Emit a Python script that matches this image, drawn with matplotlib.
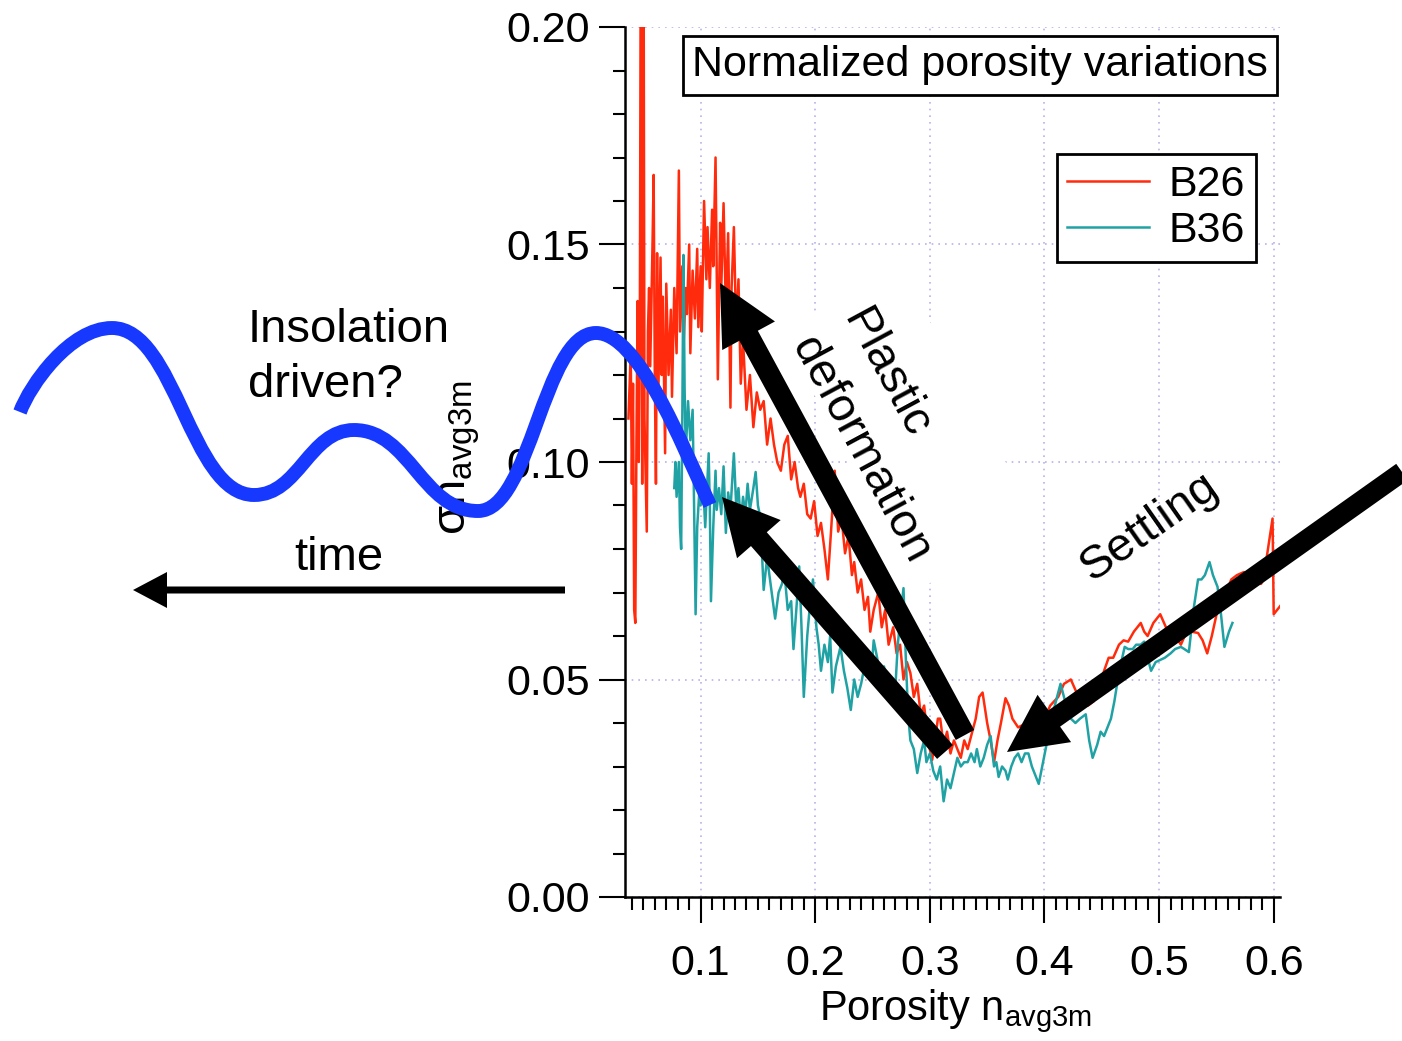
import matplotlib
matplotlib.use('Agg')
import matplotlib.pyplot as plt
from matplotlib.path import Path
from matplotlib.patches import PathPatch, FancyArrow, Polygon
from matplotlib.ticker import MultipleLocator, FormatStrFormatter

plt.rcParams['font.family'] = ['Liberation Sans', 'DejaVu Sans']
plt.rcParams['mathtext.default'] = 'regular'

# porosity vs normalized porosity variation
b26_x = [0.037, 0.039, 0.040, 0.041, 0.042, 0.043, 0.044, 0.045, 0.046, 0.047,
         0.048, 0.049, 0.050, 0.051, 0.053, 0.054, 0.055, 0.056, 0.058, 0.059,
         0.060, 0.061, 0.062, 0.063, 0.065, 0.066, 0.067, 0.069, 0.070, 0.072,
         0.074, 0.075, 0.077, 0.079, 0.081, 0.082, 0.084, 0.085, 0.087, 0.088,
         0.090, 0.091, 0.093, 0.095, 0.097, 0.098, 0.100, 0.101, 0.103, 0.105,
         0.106, 0.108, 0.110, 0.111, 0.113, 0.115, 0.117, 0.118, 0.120, 0.122,
         0.124, 0.126, 0.127, 0.129, 0.131, 0.133, 0.135, 0.137, 0.140, 0.143,
         0.146, 0.149, 0.152, 0.155, 0.158, 0.161, 0.164, 0.167, 0.170, 0.173,
         0.176, 0.179, 0.182, 0.185, 0.187, 0.190, 0.193, 0.196, 0.199, 0.202,
         0.205, 0.208, 0.211, 0.214, 0.217, 0.220, 0.223, 0.226, 0.229, 0.232,
         0.234, 0.237, 0.240, 0.243, 0.246, 0.248, 0.251, 0.255, 0.258, 0.261,
         0.264, 0.268, 0.271, 0.274, 0.277, 0.280, 0.283, 0.286, 0.289, 0.292,
         0.295, 0.298, 0.300, 0.302, 0.305, 0.307, 0.309, 0.312, 0.315, 0.318,
         0.321, 0.324, 0.327, 0.330, 0.333, 0.336, 0.340, 0.343, 0.346, 0.350,
         0.353, 0.356, 0.359, 0.362, 0.366, 0.369, 0.372, 0.377, 0.385, 0.390,
         0.395, 0.400, 0.405, 0.412, 0.417, 0.423, 0.428, 0.433, 0.438, 0.443,
         0.448, 0.452, 0.456, 0.460, 0.465, 0.469, 0.473, 0.478, 0.484, 0.487,
         0.490, 0.495, 0.501, 0.506, 0.512, 0.519, 0.524, 0.528, 0.534, 0.538,
         0.542, 0.546, 0.551, 0.556, 0.560, 0.563, 0.568, 0.574, 0.580, 0.585,
         0.589, 0.591, 0.599, 0.600, 0.609]
b26_y = [0.110, 0.125, 0.095, 0.118, 0.066, 0.063, 0.105, 0.137, 0.100, 0.136,
         0.250, 0.095, 0.250, 0.110, 0.084, 0.130, 0.140, 0.122, 0.150, 0.166,
         0.120, 0.095, 0.148, 0.114, 0.147, 0.120, 0.138, 0.102, 0.141, 0.120,
         0.135, 0.115, 0.140, 0.125, 0.167, 0.130, 0.145, 0.126, 0.140, 0.134,
         0.150, 0.125, 0.144, 0.133, 0.149, 0.131, 0.145, 0.130, 0.160, 0.142,
         0.154, 0.140, 0.158, 0.145, 0.170, 0.119, 0.155, 0.140, 0.1595, 0.135,
         0.1526, 0.1125, 0.140, 0.154, 0.130, 0.142, 0.118, 0.128, 0.112, 0.120,
         0.108, 0.116, 0.112, 0.114, 0.104, 0.110, 0.104, 0.0998, 0.098, 0.104,
         0.106, 0.096, 0.100, 0.094, 0.092, 0.095, 0.088, 0.087, 0.091, 0.083,
         0.086, 0.080, 0.073, 0.085, 0.098, 0.084, 0.087, 0.079, 0.083, 0.074,
         0.077, 0.070, 0.073, 0.066, 0.069, 0.061, 0.066, 0.070, 0.062, 0.066,
         0.058, 0.062, 0.056, 0.058, 0.050, 0.054, 0.0515, 0.046, 0.049, 0.042,
         0.044, 0.037, 0.034, 0.0315, 0.037, 0.041, 0.041, 0.035, 0.038, 0.033,
         0.036, 0.034, 0.032, 0.036, 0.034, 0.037, 0.041, 0.046, 0.047, 0.040,
         0.036, 0.031, 0.036, 0.040, 0.0457, 0.044, 0.041, 0.039, 0.040, 0.042,
         0.038, 0.041, 0.044, 0.046, 0.049, 0.050, 0.047, 0.045, 0.044, 0.045,
         0.048, 0.052, 0.055, 0.055, 0.058, 0.059, 0.0587, 0.061, 0.063, 0.061,
         0.060, 0.063, 0.065, 0.062, 0.061, 0.058, 0.061, 0.061, 0.0607, 0.059,
         0.056, 0.060, 0.066, 0.068, 0.071, 0.073, 0.074, 0.0747, 0.074, 0.072,
         0.072, 0.073, 0.087, 0.065, 0.068]

b36_x = [0.077, 0.078, 0.079, 0.081, 0.082, 0.083, 0.084, 0.085, 0.086, 0.087,
         0.089, 0.091, 0.093, 0.094, 0.0956, 0.097, 0.099, 0.100, 0.102, 0.104,
         0.107, 0.108, 0.109, 0.111, 0.113, 0.114, 0.116, 0.118, 0.120, 0.122,
         0.124, 0.126, 0.129, 0.131, 0.133, 0.135, 0.137, 0.139, 0.141, 0.143,
         0.146, 0.148, 0.150, 0.152, 0.155, 0.158, 0.161, 0.165, 0.168, 0.171,
         0.173, 0.176, 0.179, 0.181, 0.184, 0.186, 0.188, 0.190, 0.193, 0.195,
         0.198, 0.201, 0.203, 0.205, 0.208, 0.211, 0.213, 0.215, 0.218, 0.222,
         0.225, 0.228, 0.231, 0.234, 0.237, 0.240, 0.243, 0.246, 0.249, 0.251,
         0.254, 0.257, 0.260, 0.263, 0.266, 0.269, 0.272, 0.275, 0.277, 0.279,
         0.281, 0.283, 0.286, 0.289, 0.292, 0.295, 0.297, 0.300, 0.303, 0.306,
         0.309, 0.312, 0.315, 0.318, 0.321, 0.324, 0.327, 0.330, 0.333, 0.336,
         0.339, 0.341, 0.344, 0.347, 0.350, 0.353, 0.356, 0.358, 0.360, 0.363,
         0.366, 0.368, 0.371, 0.374, 0.377, 0.380, 0.383, 0.386, 0.389, 0.392,
         0.395, 0.398, 0.401, 0.404, 0.407, 0.410, 0.414, 0.417, 0.420, 0.423,
         0.427, 0.431, 0.436, 0.439, 0.442, 0.446, 0.449, 0.452, 0.455, 0.458,
         0.461, 0.464, 0.467, 0.470, 0.473, 0.477, 0.480, 0.484, 0.487, 0.490,
         0.493, 0.497, 0.501, 0.505, 0.510, 0.514, 0.519, 0.522, 0.526, 0.530,
         0.534, 0.537, 0.540, 0.544, 0.547, 0.551, 0.554, 0.557, 0.561, 0.564]
b36_y = [0.094, 0.100, 0.092, 0.100, 0.085, 0.080, 0.110, 0.1476, 0.117, 0.102,
         0.114, 0.105, 0.112, 0.095, 0.065, 0.085, 0.094, 0.090, 0.096, 0.085,
         0.102, 0.090, 0.068, 0.085, 0.098, 0.089, 0.094, 0.088, 0.099, 0.0837,
         0.093, 0.089, 0.102, 0.090, 0.094, 0.086, 0.092, 0.088, 0.095, 0.089,
         0.094, 0.0977, 0.090, 0.0874, 0.0706, 0.078, 0.072, 0.064, 0.070, 0.072,
         0.075, 0.066, 0.068, 0.057, 0.068, 0.076, 0.062, 0.046, 0.060, 0.066,
         0.073, 0.062, 0.058, 0.052, 0.058, 0.054, 0.060, 0.047, 0.053, 0.0575,
         0.052, 0.048, 0.043, 0.050, 0.046, 0.049, 0.053, 0.055, 0.052, 0.059,
         0.055, 0.050, 0.053, 0.046, 0.049, 0.044, 0.058, 0.066, 0.071, 0.055,
         0.042, 0.036, 0.034, 0.0285, 0.033, 0.036, 0.031, 0.033, 0.029, 0.027,
         0.030, 0.022, 0.027, 0.025, 0.0285, 0.032, 0.030, 0.031, 0.031, 0.033,
         0.031, 0.034, 0.030, 0.032, 0.035, 0.037, 0.030, 0.031, 0.0276, 0.030,
         0.029, 0.027, 0.030, 0.032, 0.033, 0.031, 0.033, 0.033, 0.030, 0.028,
         0.026, 0.030, 0.034, 0.038, 0.042, 0.045, 0.049, 0.046, 0.043, 0.041,
         0.040, 0.041, 0.042, 0.036, 0.032, 0.035, 0.038, 0.037, 0.039, 0.041,
         0.045, 0.050, 0.054, 0.0575, 0.057, 0.057, 0.058, 0.058, 0.0587, 0.055,
         0.052, 0.054, 0.0545, 0.055, 0.056, 0.057, 0.0575, 0.057, 0.0563, 0.066,
         0.073, 0.073, 0.074, 0.077, 0.074, 0.0713, 0.065, 0.0575, 0.061, 0.063]

series_names = ['B26', 'B36']
title_text = 'Normalized porosity variations'

# hand-drawn overlay (figure pixels, y down): wave anchors at its extremes
wave_x = [20, 112, 254, 354, 478, 596, 710]
wave_y = [412, 328, 495, 430, 511, 333, 505]

fig = plt.figure(figsize=(14.02, 10.41), dpi=100)
W, H = 1402, 1041
ax = fig.add_axes([625 / W, 144 / H, 655 / W, 870 / H])

# overlay in figure pixels
ov = fig.add_axes([0, 0, 1, 1], zorder=5)
ov.set_xlim(0, W)
ov.set_ylim(H, 0)
ov.axis('off')
ov.patch.set_alpha(0)

ax.plot(b26_x, b26_y, color='#ff2b0c', lw=1.8, label=series_names[0])
ax.plot(b36_x, b36_y, color='#20a2a4', lw=1.8, label=series_names[1])

ax.set_xlim(0.034, 0.6055)
ax.set_ylim(0, 0.2)
for s in ['top', 'right']:
    ax.spines[s].set_visible(False)
for s in ['left', 'bottom']:
    ax.spines[s].set_linewidth(1.8)

ax.xaxis.set_major_locator(MultipleLocator(0.1))
ax.xaxis.set_minor_locator(MultipleLocator(0.01))
ax.yaxis.set_major_locator(MultipleLocator(0.05))
ax.yaxis.set_minor_locator(MultipleLocator(0.01))
ax.xaxis.set_major_formatter(FormatStrFormatter('%.1f'))
ax.yaxis.set_major_formatter(FormatStrFormatter('%.2f'))
ax.tick_params(which='major', direction='out', length=19, width=1.5, labelsize=31)
ax.tick_params(which='minor', direction='out', length=9, width=1.5)
ax.tick_params(axis='x', which='major', pad=15)
ax.tick_params(axis='y', which='major', pad=6)
ax.grid(True, which='major', linestyle=(0, (1, 3)), color='#b4b4e6', lw=1.2)

# white fill of the rotated "Plastic deformation" text box hides the grid there
ax.add_patch(Polygon([(780, 331), (900, 266), (1039, 524), (919, 589)],
                     closed=True, fc='white', ec='none', transform=ov.transData,
                     zorder=1.8))

ax.set_xlabel(r'Porosity n$_{avg3m}$', fontsize=30)
ax.xaxis.set_label_coords(0.504, -0.104)
ax.set_ylabel(r'σn$_{avg3m}$', fontsize=34)
ax.yaxis.set_label_coords(-0.219, 0.505)

ax.text(0.542, 0.956, title_text, transform=ax.transAxes, ha='center', va='center',
        fontsize=31, zorder=6,
        bbox=dict(boxstyle='square,pad=0.22', fc='white', ec='black', lw=2))

leg = ax.legend(loc='upper right', bbox_to_anchor=(0.963, 0.854), fontsize=31,
                frameon=True, fancybox=False, edgecolor='black', framealpha=1,
                borderpad=0.25, labelspacing=0.15, handlelength=1.9,
                handletextpad=0.45, borderaxespad=0)
leg.get_frame().set_linewidth(2)

# blue wave as bezier segments, flat tangents at the extremes
verts = [(wave_x[0], wave_y[0]), (30, 385), (70, wave_y[1]), (wave_x[1], wave_y[1])]
codes = [Path.MOVETO, Path.CURVE4, Path.CURVE4, Path.CURVE4]
for i in range(1, len(wave_x) - 2):
    d = 0.45 * (wave_x[i + 1] - wave_x[i])
    verts += [(wave_x[i] + d, wave_y[i]), (wave_x[i + 1] - d, wave_y[i + 1]),
              (wave_x[i + 1], wave_y[i + 1])]
    codes += [Path.CURVE4] * 3
verts += [(638, wave_y[-2]), (680, 440), (wave_x[-1], wave_y[-1])]
codes += [Path.CURVE4] * 3
ov.add_patch(PathPatch(Path(verts, codes), fill=False, ec='#1638ff', lw=10,
                       capstyle='butt', joinstyle='round'))

def arrow(x0, y0, x1, y1, w, hw, hl):
    ov.add_patch(FancyArrow(x0, y0, x1 - x0, y1 - y0, width=w, head_width=hw,
                            head_length=hl, length_includes_head=True,
                            color='black', lw=0))

arrow(565, 590, 133, 590, 7, 36, 34)
arrow(965, 735, 720, 283, 21, 60, 60)
arrow(945, 752, 722, 497, 21, 58, 56)
arrow(1402, 472, 1007, 752, 20, 58, 58)

ov.text(248, 342, 'Insolation', fontsize=34, va='baseline', ha='left')
ov.text(248, 397, 'driven?', fontsize=34, va='baseline', ha='left')
ov.text(294, 570, 'time', fontsize=34, va='baseline', ha='left')
ov.text(842, 318, 'Plastic', fontsize=34, rotation=-61.7, rotation_mode='anchor',
        ha='left', va='baseline')
ov.text(791, 346, 'deformation', fontsize=34, rotation=-61.7, rotation_mode='anchor',
        ha='left', va='baseline')
ov.text(1150, 527, 'Settling', fontsize=34, rotation=35, rotation_mode='anchor',
        ha='center', va='center')

fig.savefig('out.png', dpi=100)
